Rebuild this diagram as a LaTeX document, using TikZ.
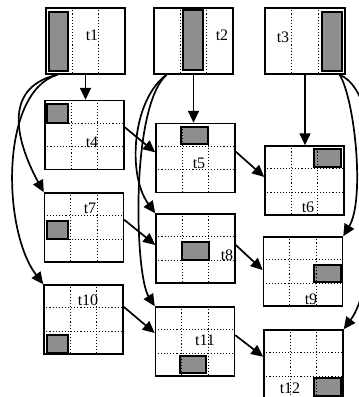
\documentclass[tikz,border=0pt]{standalone}
\usepackage{fontspec}
\setmainfont{Liberation Serif}
\usetikzlibrary{calc,arrows.meta}
\definecolor{cellgray}{HTML}{8E8E8E}
\newcommand\colsdots[1]{%
  \draw[dotline] ($(#1.north west)!1/3!(#1.north east)$) -- ($(#1.south west)!1/3!(#1.south east)$);
  \draw[dotline] ($(#1.north west)!2/3!(#1.north east)$) -- ($(#1.south west)!2/3!(#1.south east)$);}
\newcommand\griddots[1]{%
  \colsdots{#1}%
  \draw[dotline] ($(#1.north west)!1/3!(#1.south west)$) -- ($(#1.north east)!1/3!(#1.south east)$);
  \draw[dotline] ($(#1.north west)!2/3!(#1.south west)$) -- ($(#1.north east)!2/3!(#1.south east)$);}
\begin{document}
\begin{tikzpicture}[x=1pt,y=-1pt,
  box/.style={draw,line width=1.5pt,inner sep=0pt,minimum width=79pt,minimum height=69pt},
  topbox/.style={box,minimum height=66pt},
  dotline/.style={line width=1.1pt,dash pattern=on 1.1pt off 2pt},
  shade/.style={draw,line width=1.2pt,fill=cellgray},
  conn/.style={line width=1.7pt,-{Triangle[length=12pt,width=11pt]}},
  lbl/.style={inner sep=0pt,font=\fontsize{16}{18}\selectfont}]
\useasboundingbox (0,0) rectangle (359,397);
% boxes
\node[topbox] (t1) at (85.5,41) {};
\node[topbox] (t2) at (193.5,41) {};
\node[topbox,minimum width=80pt] (t3) at (305,41) {};
\node[box] (t4) at (84.5,135) {};
\node[box] (t5) at (195.5,158) {};
\node[box] (t6) at (304.5,180.5) {};
\node[box] (t7) at (84,227.5) {};
\node[box] (t8) at (195.5,248.5) {};
\node[box] (t9) at (303,271.5) {};
\node[box] (t10) at (83.5,319.5) {};
\node[box] (t11) at (195,341.5) {};
\node[box] (t12) at (303.5,364.5) {};
% gray cells
\draw[shade] (49,12) rectangle (68,71);
\draw[shade] (183,10) rectangle (203,70);
\draw[shade] (322,12) rectangle (342,71);
\draw[shade] (47,104) rectangle (68,123);
\draw[shade] (181,127) rectangle (208,144);
\draw[shade] (314,149) rectangle (341,167);
\draw[shade] (47,221) rectangle (68,239);
\draw[shade] (182,242) rectangle (209,260);
\draw[shade] (314,265) rectangle (341,282);
\draw[shade] (47,335) rectangle (68,353);
\draw[shade] (180,356) rectangle (206,373);
\draw[shade] (314,378) rectangle (341,396);
% labels
\node[lbl] (l1) at (92,35) {t1};
\node[lbl] (l2) at (222,35) {t2};
\node[lbl] (l3) at (283,37) {t3};
\node[lbl] (l4) at (92,142) {t4};
\node[lbl] (l5) at (199,163) {t5};
\node[lbl] (l6) at (308,207) {t6};
\node[lbl] (l7) at (90,208) {t7};
\node[lbl] (l8) at (227,255) {t8};
\node[lbl] (l9) at (311,299) {t9};
\node[lbl] (l10) at (88,300) {t10};
\node[lbl] (l11) at (205,340) {t11};
\node[lbl] (l12) at (290,388) {t12};
% dotted grid lines
\colsdots{t1}\colsdots{t2}\colsdots{t3}
\griddots{t4}\griddots{t5}\griddots{t6}
\griddots{t7}\griddots{t8}\griddots{t9}
\griddots{t10}\griddots{t11}\griddots{t12}
% vertical arrows
\draw[conn] (t1.south) -- (t1.south |- t4.north);
\draw[conn] (t2.south) -- (t2.south |- t5.north);
\draw[conn] (t3.south) -- (t3.south |- t6.north);
% horizontal-ish arrows
\draw[conn] ($(t4.north east)!0.39!(t4.south east)$) -- ($(t5.north west)!0.42!(t5.south west)$);
\draw[conn] ($(t5.north east)!0.41!(t5.south east)$) -- ($(t6.north west)!0.45!(t6.south west)$);
\draw[conn] ($(t7.north east)!0.39!(t7.south east)$) -- ($(t8.north west)!0.45!(t8.south west)$);
\draw[conn] ($(t8.north east)!0.45!(t8.south east)$) -- ($(t9.north west)!0.48!(t9.south west)$);
\draw[conn] ($(t10.north east)!0.32!(t10.south east)$) -- ($(t11.north west)!0.38!(t11.south west)$);
\draw[conn] ($(t11.north east)!0.41!(t11.south east)$) -- ($(t12.north west)!0.39!(t12.south west)$);
% curved arrows
\coordinate (s1) at ($(t1.south west)!0.15!(t1.south east)$);
\coordinate (s2) at ($(t2.south west)!0.165!(t2.south east)$);
\coordinate (s3) at ($(t3.south west)!0.925!(t3.south east)$);
\draw[conn] (s1) .. controls (0,88) and (18,145) .. (t7.north west);
\draw[conn] (s1) .. controls (0,92) and (2,230) .. (t10.north west);
\draw[conn] (s2) .. controls (132,100) and (127,175) .. (t8.north west);
\draw[conn] (s2) .. controls (130,108) and (135,275) .. (t11.north west);
\draw[conn] (s3) .. controls (355,100) and (365,200) .. (t9.north east);
\draw[conn] (s3) .. controls (390,95) and (380,280) .. (t12.north east);
\end{tikzpicture}
\end{document}
